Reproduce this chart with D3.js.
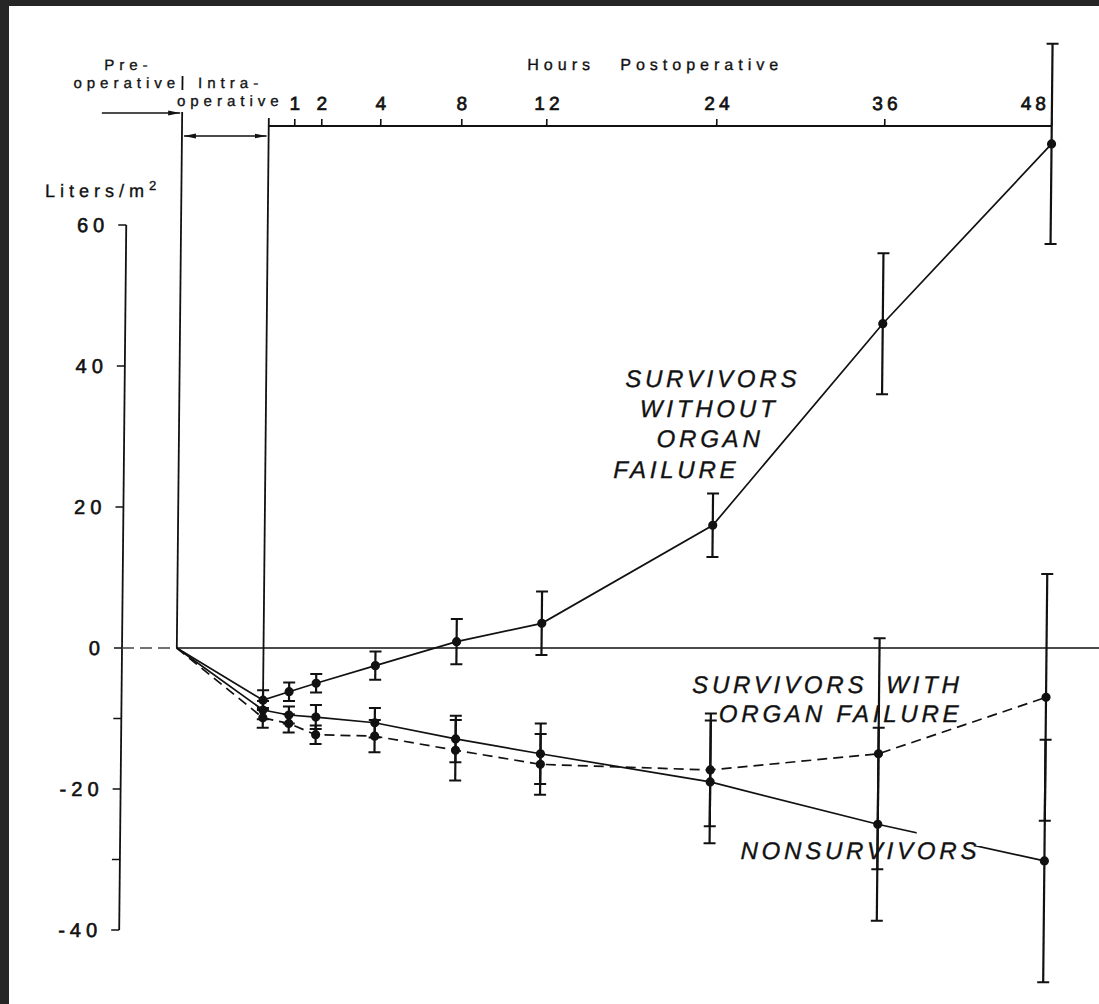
<!DOCTYPE html>
<html>
<head>
<meta charset="utf-8">
<script src="https://cdn.jsdelivr.net/npm/d3@7"></script>
<style>
  body { margin: 0; background: #262626; }
  svg { display: block; }
  text { font-family: "Liberation Sans", Arial, sans-serif; fill: #111; stroke: #111; stroke-width: 0.35px; }
</style>
</head>
<body>
<script>
var W = 1099, H = 1004;

// time points: -1 = preoperative baseline, 0 = end of operation, then hours postoperative
var hours = [-1, 0, 1, 2, 4, 8, 12, 24, 36, 48];
var hourTicks = [1, 2, 4, 8, 12, 24, 36, 48];
var yTicks = [60, 40, 20, 0, -20, -40];
var yMinorTicks = [-10, -30];

// cumulative volume, Liters/m2 (mean and error half-width)
var withoutOF    = [0, -7.4, -6.2, -5.0, -2.5, 0.9, 3.5, 17.4, 46, 71.5];
var withoutOFErr = [0, 1.4, 1.3, 1.3, 2.0, 3.2, 4.5, 4.5, 10, 14.2];
var withOF       = [0, -9.9, -10.7, -12.3, -12.5, -14.5, -16.5, -17.3, -15, -7];
var withOFErr    = [0, 1.4, 1.3, 1.3, 2.3, 4.3, 4.3, 8, 16.4, 17.5];
var nonsurv      = [0, -8.8, -9.5, -9.8, -10.6, -12.9, -15, -19, -25, -30.2];
var nonsurvErr   = [0, 1.3, 1.2, 1.7, 2.1, 3.3, 4.3, 8.7, 13.7, 17.2];

var series = [
  { key: "without", values: withoutOF, err: withoutOFErr, dash: null },
  { key: "nonsurv", values: nonsurv, err: nonsurvErr, dash: null },
  { key: "with", values: withOF, err: withOFErr, dash: "10,6" }
];

// the hour axis of the original is not linear, so piecewise
var x = d3.scaleLinear()
  .domain(hours)
  .range([179.3, 266, 292, 319, 378, 459, 544, 714, 882, 1049]);

var y = d3.scaleLinear()
  .domain([-40, 60])
  .range([930, 225]);

var svg = d3.select("body").append("svg")
  .attr("width", W)
  .attr("height", H);

svg.append("rect").attr("width", W).attr("height", H).attr("fill", "#262626");
svg.append("rect").attr("x", 9).attr("y", 6).attr("width", W - 9).attr("height", H - 6).attr("fill", "#fff");

var defs = svg.append("defs");
defs.append("marker")
  .attr("id", "arr")
  .attr("viewBox", "0 0 12 6")
  .attr("refX", 12).attr("refY", 3)
  .attr("markerWidth", 12).attr("markerHeight", 6)
  .attr("markerUnits", "userSpaceOnUse")
  .attr("orient", "auto-start-reverse")
  .append("path").attr("d", "M0,0.6 L12,3 L0,5.4 Z").attr("fill", "#111");

// the scanned figure leans a little; shear the whole drawing to match
var g = svg.append("g").attr("transform", "matrix(1,0,-0.01,1,4,0)");

// ---- y axis ----
var axX = 124.5;
g.append("line")
  .attr("x1", axX).attr("x2", axX)
  .attr("y1", y(60)).attr("y2", y(-40))
  .attr("stroke", "#111").attr("stroke-width", 1.8);

g.selectAll(".ytick")
  .data(yTicks.concat(yMinorTicks))
  .enter().append("line")
  .attr("x1", axX - 8).attr("x2", axX)
  .attr("y1", d => y(d)).attr("y2", d => y(d))
  .attr("stroke", "#111").attr("stroke-width", 1.6);

g.selectAll(".ylab")
  .data(yTicks)
  .enter().append("text")
  .attr("x", axX - 17)
  .attr("y", d => y(d))
  .attr("dy", "0.36em")
  .attr("text-anchor", "end")
  .style("font-size", "20px")
  .style("letter-spacing", "5px")
  .style("stroke-width", "0.6px")
  .text(d => d);

var lt = g.append("text")
  .attr("x", 43).attr("y", 197)
  .style("font-size", "18px")
  .style("letter-spacing", "5px")
  .text("Liters/m");
lt.append("tspan").attr("dy", -7).style("font-size", "13px").text("2");

// ---- period markers ----
// dashed baseline from axis to the preoperative point
g.append("line")
  .attr("x1", axX).attr("x2", x(-1))
  .attr("y1", y(0)).attr("y2", y(0))
  .attr("stroke", "#444").attr("stroke-width", 1.3)
  .attr("stroke-dasharray", "12,6");
g.append("line")
  .attr("x1", x(-1)).attr("x2", W + 10)
  .attr("y1", y(0)).attr("y2", y(0))
  .attr("stroke", "#111").attr("stroke-width", 1.6);

g.append("line")
  .attr("x1", x(-1)).attr("x2", x(-1))
  .attr("y1", 112).attr("y2", y(0))
  .attr("stroke", "#111").attr("stroke-width", 1.8);
g.append("line")
  .attr("x1", x(-1)).attr("x2", x(-1))
  .attr("y1", 76).attr("y2", 90)
  .attr("stroke", "#111").attr("stroke-width", 1.8);

g.append("line")
  .attr("x1", x(0)).attr("x2", x(0))
  .attr("y1", 118).attr("y2", y(withoutOF[1] + withoutOFErr[1]))
  .attr("stroke", "#111").attr("stroke-width", 1.8);

g.append("line")
  .attr("x1", 99).attr("x2", x(-1) - 2)
  .attr("y1", 113).attr("y2", 113)
  .attr("stroke", "#111").attr("stroke-width", 1.6)
  .attr("marker-end", "url(#arr)");

g.append("line")
  .attr("x1", x(-1) + 2).attr("x2", x(0) - 2)
  .attr("y1", 136).attr("y2", 136)
  .attr("stroke", "#111").attr("stroke-width", 1.6)
  .attr("marker-start", "url(#arr)")
  .attr("marker-end", "url(#arr)");

var small = { "font-size": "15px", "letter-spacing": "5px" };
function addText(tx, ty, str, anchor, st) {
  var t = g.append("text").attr("x", tx).attr("y", ty).attr("text-anchor", anchor || "start").text(str);
  Object.keys(st).forEach(k => t.style(k, st[k]));
  return t;
}
addText(125, 70, "Pre-", "middle", small);
addText(177, 88, "operative", "end", small);
addText(195, 88, "Intra-", "start", small);
addText(174, 106, "operative", "start", small);

// ---- top hour axis ----
var topY = 126;
g.append("line")
  .attr("x1", x(0)).attr("x2", x(48))
  .attr("y1", topY).attr("y2", topY)
  .attr("stroke", "#111").attr("stroke-width", 1.8);

g.selectAll(".htick")
  .data(hourTicks)
  .enter().append("line")
  .attr("x1", d => x(d)).attr("x2", d => x(d))
  .attr("y1", topY - 7).attr("y2", topY)
  .attr("stroke", "#111").attr("stroke-width", 1.6);

g.selectAll(".hlab")
  .data(hourTicks)
  .enter().append("text")
  .attr("x", d => d === 48 ? x(d) - 2 : x(d) + 2)
  .attr("y", 110)
  .attr("text-anchor", d => d === 48 ? "end" : "middle")
  .style("font-size", "19px")
  .style("letter-spacing", "4px")
  .style("stroke-width", "0.7px")
  .text(d => d);

addText(524, 70, "Hours", "start", { "font-size": "16px", "letter-spacing": "5px" });
addText(617, 70, "Postoperative", "start", { "font-size": "16px", "letter-spacing": "5px" });

// ---- series ----
var line = d3.line()
  .x((d, i) => x(hours[i]))
  .y(d => y(d));

series.forEach(function (s) {
  g.append("path")
    .datum(s.values)
    .attr("d", line)
    .attr("fill", "none")
    .attr("stroke", "#111")
    .attr("stroke-width", 1.7)
    .attr("stroke-dasharray", s.dash);
});

// gap in the nonsurvivor line around its label
g.append("rect")
  .attr("x", 921).attr("y", 826)
  .attr("width", 67).attr("height", 20)
  .attr("fill", "#fff");

series.forEach(function (s) {
  var pts = s.values.map((v, i) => ({ h: hours[i], v: v, e: s.err[i] })).filter(p => p.h >= 0);
  var eb = g.selectAll(".eb-" + s.key).data(pts).enter().append("g");
  eb.append("line")
    .attr("x1", d => x(d.h)).attr("x2", d => x(d.h))
    .attr("y1", d => y(d.v + d.e)).attr("y2", d => y(d.v - d.e))
    .attr("stroke", "#111").attr("stroke-width", 2.2);
  [1, -1].forEach(function (sgn) {
    eb.append("line")
      .attr("x1", d => x(d.h) - 6).attr("x2", d => x(d.h) + 6)
      .attr("y1", d => y(d.v + sgn * d.e)).attr("y2", d => y(d.v + sgn * d.e))
      .attr("stroke", "#111").attr("stroke-width", 2);
  });
  g.selectAll(".pt-" + s.key).data(s.values).enter().append("circle")
    .attr("cx", (d, i) => x(hours[i]))
    .attr("cy", d => y(d))
    .attr("r", (d, i) => i === 0 ? 0 : 4.6)
    .attr("fill", "#111");
});

// ---- labels ----
var lab = { "font-size": "24px", "letter-spacing": "3.8px", "font-style": "italic" };
addText(625, 387, "SURVIVORS", "start", lab);
addText(640, 417, "WITHOUT", "start", lab);
addText(657, 447, "ORGAN", "start", lab);
addText(614, 478, "FAILURE", "start", lab);
addText(695, 693, "SURVIVORS", "start", lab);
addText(889, 693, "WITH", "start", lab);
addText(722, 722, "ORGAN FAILURE", "start", lab);
addText(745, 859, "NONSURVIVORS", "start", lab);
</script>
</body>
</html>
